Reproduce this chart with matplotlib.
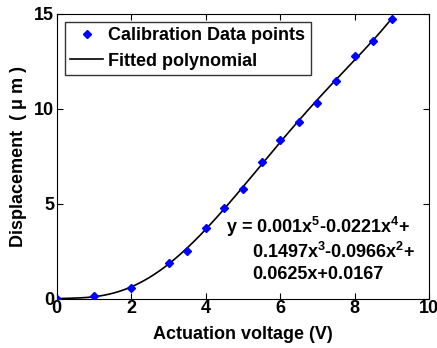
import numpy as np
import matplotlib
matplotlib.use("Agg")
import matplotlib.pyplot as plt

plt.rcParams['font.family'] = ['Liberation Sans', 'DejaVu Sans']
plt.rcParams['font.weight'] = 'bold'
plt.rcParams['mathtext.fontset'] = 'custom'
plt.rcParams['mathtext.rm'] = 'Liberation Sans:bold'
plt.rcParams['mathtext.bf'] = 'Liberation Sans:bold'
plt.rcParams['mathtext.default'] = 'bf'

# datos de calibracion
voltaje = [0, 1, 2, 3, 3.5, 4, 4.5, 5, 5.5, 6, 6.5, 7, 7.5, 8, 8.5, 9]
desplazamiento = [0.0, 0.17, 0.58, 1.91, 2.51, 3.74, 4.81, 5.79, 7.19, 8.37,
                  9.32, 10.3, 11.49, 12.79, 13.6, 14.74]

# polinomio de grado 5 ajustado a los puntos
coef = np.polyfit(voltaje, desplazamiento, 5)
xs = np.linspace(0, 9, 200)
ys = np.polyval(coef, xs)

fig = plt.figure(figsize=(4.37, 3.48), dpi=100)
ax = fig.add_axes([0.130, 0.141, 0.852, 0.819])

ax.plot(voltaje, desplazamiento, "D", color="#0000ff", markersize=4,
        label="Calibration Data points", zorder=3)
ax.plot(xs, ys, "-", color="black", linewidth=1.2, label="Fitted polynomial")

ax.set_xlim(0, 10)
ax.set_ylim(0, 15)
ax.set_xticks([0, 2, 4, 6, 8, 10])
ax.set_yticks([0, 5, 10, 15])
ax.tick_params(direction="in", top=True, right=True, length=4, labelsize=13)
ax.tick_params(axis="x", pad=1)
ax.tick_params(axis="y", pad=2)
for lab in ax.get_xticklabels() + ax.get_yticklabels():
    lab.set_fontweight("bold")

ax.set_xlabel("Actuation voltage (V)", fontsize=13, fontweight="bold", labelpad=6)
ax.set_ylabel("Displacement  ( \u03bc m )", fontsize=13, fontweight="bold", labelpad=5)

ax.legend(loc="upper left", frameon=True, fancybox=False,
          edgecolor="black", handlelength=1.8, borderaxespad=0.45,
          labelspacing=0.45, borderpad=0.3, handletextpad=0.3,
          prop={'weight': 'bold', 'size': 13})

ax.text(0.455, 0.253, "y = 0.001x$^5$-0.0221x$^4$+", transform=ax.transAxes,
        fontsize=13, fontweight="bold", va="center")
ax.text(0.524, 0.165, "0.1497x$^3$-0.0966x$^2$+", transform=ax.transAxes,
        fontsize=13, fontweight="bold", va="center")
ax.text(0.524, 0.084, "0.0625x+0.0167", transform=ax.transAxes,
        fontsize=13, fontweight="bold", va="center")

fig.savefig("out.png", dpi=100)
